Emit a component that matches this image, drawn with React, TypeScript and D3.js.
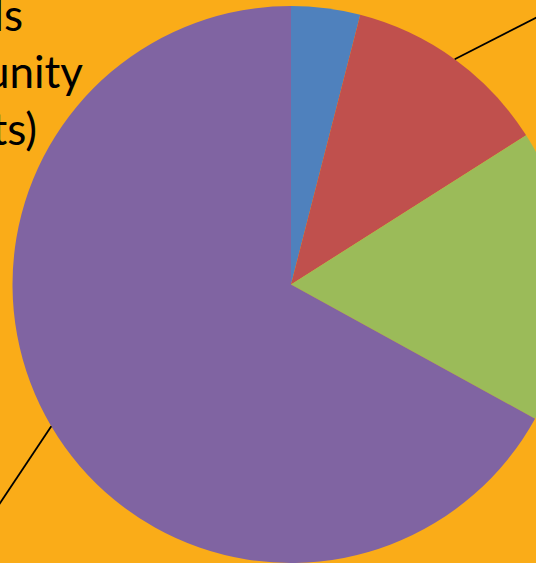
import React from "react";
import * as d3 from "d3";

const categories = ["Schools", "Individuals", "Organisations", "Community"];
const values = [4, 12, 17, 67];
const colors = ["#4F81BD", "#C0504D", "#9BBB59", "#8064A2"];
const labelLines = ["Individuals", "(community", "participants)"];

const W = 536;
const H = 563;
const cx = 291;
const cy = 284.5;
const R = 278.5;

export default function App() {
  const pie = d3.pie<number>().sort(null).value((d) => d);
  const arcs = pie(values);
  const arcGen = d3.arc<d3.PieArcDatum<number>>().innerRadius(0).outerRadius(R);

  const leader = (i: number, dx: number, dy: number) => {
    const a = (arcs[i].startAngle + arcs[i].endAngle) / 2;
    const x1 = Math.sin(a) * R;
    const y1 = -Math.cos(a) * R;
    return { x1, y1, x2: x1 + dx, y2: y1 + dy };
  };
  const l1 = leader(1, 120, -61);
  const l2 = leader(3, -70, 105);

  return (
    <svg
      width={W}
      height={H}
      style={{ position: "fixed", left: 0, top: 0, display: "block" }}
    >
      <rect x={0} y={0} width={W} height={H} fill="#FAAC18" />
      <g transform={`translate(${cx},${cy})`}>
        {arcs.map((a, i) => (
          <path key={categories[i]} d={arcGen(a) || ""} fill={colors[i]} />
        ))}
        {[l1, l2].map((l, i) => (
          <line
            key={i}
            x1={l.x1}
            y1={l.y1}
            x2={l.x2}
            y2={l.y2}
            stroke="#000"
            strokeWidth={1.8}
          />
        ))}
      </g>
      <g fontFamily="Lato, 'Open Sans', sans-serif" fontSize={44} fill="#000" textAnchor="end">
        <text x={23} y={31}>{labelLines[0]}</text>
        <text x={83} y={88}>{labelLines[1]}</text>
        <text x={37} y={145}>{labelLines[2]}</text>
      </g>
    </svg>
  );
}
